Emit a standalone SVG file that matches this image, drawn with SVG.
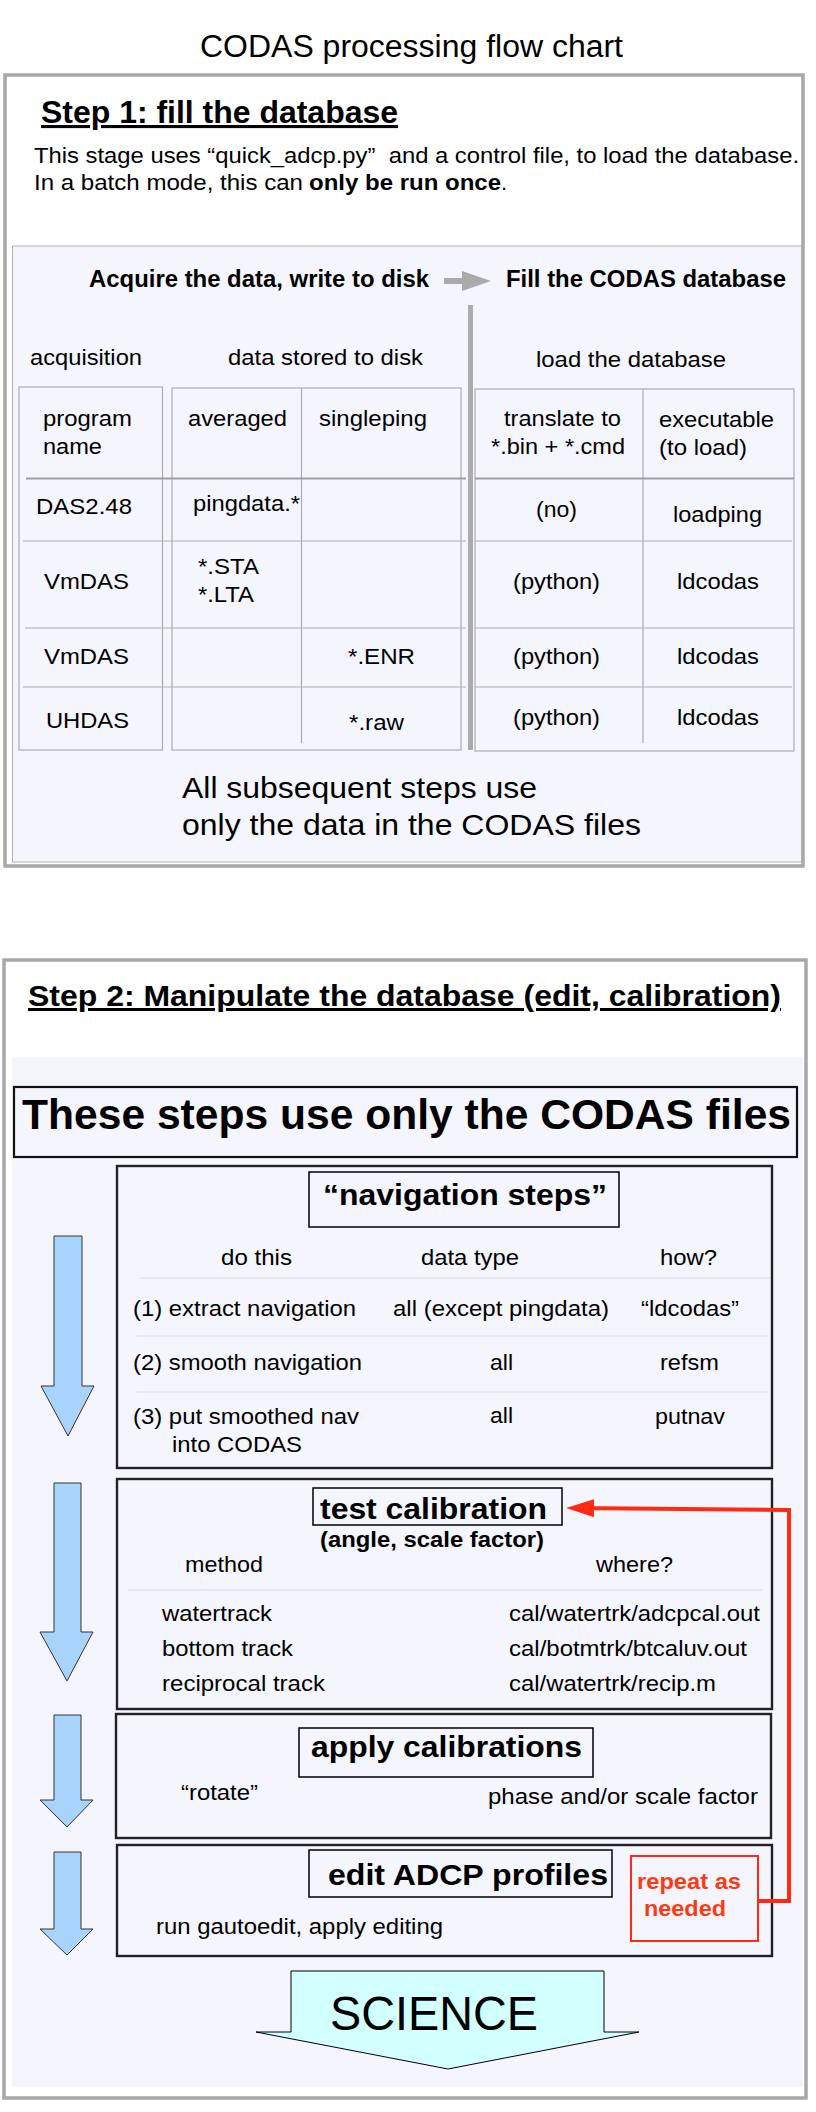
<svg xmlns="http://www.w3.org/2000/svg" width="816" height="2112" viewBox="0 0 816 2112">
<defs>
<style>
text{font-family:"Liberation Sans",Arial,Helvetica,sans-serif;fill:#000;white-space:pre}
.f22{font-size:22px}
.f23{font-size:23px}
.f30{font-size:30px}
.b{font-weight:bold}
.outer{fill:#fff;stroke:#a8a8a8;stroke-width:3.5}
.panel{fill:#f5f5fd}
.tbl{fill:none;stroke:#adadad;stroke-width:1.2}
.row{stroke:#adadad;stroke-width:1.2}
.sep{stroke:#dcdcdc;stroke-width:1.2}
.box{fill:none;stroke:#222;stroke-width:2.4}
.lbl{fill:none;stroke:#000;stroke-width:1.5}
.blue{fill:#a8d4fc;stroke:#333;stroke-width:1}
.red{fill:#ff3a12}
</style>
<marker id="redhead" viewBox="0 0 28 18" refX="19" refY="9" markerWidth="28" markerHeight="18" markerUnits="userSpaceOnUse" orient="auto">
<path d="M0,0 L28,9 L0,18 Z" fill="#ff2a12"/>
</marker>
</defs>
<rect width="816" height="2112" fill="#fff"/>

<g id="title">
<text x="200" y="57" style="font-size:31px" textLength="423" lengthAdjust="spacingAndGlyphs">CODAS processing flow chart</text>
</g>

<g id="step1">
<rect class="outer" x="5" y="75" width="798" height="791"/>
<text x="41" y="123" class="b" style="font-size:31px" text-decoration="underline" textLength="357" lengthAdjust="spacingAndGlyphs">Step 1: fill the database</text>
<text x="34" y="163" class="f22" textLength="765" lengthAdjust="spacingAndGlyphs">This stage uses “quick_adcp.py”  and a control file, to load the database.</text>
<text x="34" y="190" class="f22" textLength="269" lengthAdjust="spacingAndGlyphs">In a batch mode, this can</text>
<text x="309" y="190" class="f22 b" textLength="192" lengthAdjust="spacingAndGlyphs">only be run once</text>
<text x="501" y="190" class="f22">.</text>
</g>

<g id="step1-panel">
<rect class="panel" x="12.5" y="246" width="789" height="616" stroke="#b0b0b0" stroke-width="1"/>
<text x="89" y="287" class="f23 b" textLength="340" lengthAdjust="spacingAndGlyphs">Acquire the data, write to disk</text>
<text x="506" y="287" class="f23 b" textLength="280" lengthAdjust="spacingAndGlyphs">Fill the CODAS database</text>
<rect x="468" y="305" width="5" height="445" fill="#acacac"/>
</g>

<g id="acquire-table">
<text x="30" y="365" class="f22" textLength="112" lengthAdjust="spacingAndGlyphs">acquisition</text>
<text x="228" y="365" class="f22" textLength="195" lengthAdjust="spacingAndGlyphs">data stored to disk</text>
<rect class="tbl" x="19" y="387" width="143.5" height="363"/>
<rect class="tbl" x="172" y="388" width="289" height="362"/>
<line class="row" x1="301.5" y1="388" x2="301.5" y2="743"/>
<line x1="26" y1="478.5" x2="466" y2="478.5" stroke="#a0a0a0" stroke-width="2.2"/>
<line class="row" x1="23" y1="541" x2="466" y2="541"/>
<line class="row" x1="25" y1="628" x2="466" y2="628"/>
<line class="row" x1="23" y1="687" x2="466" y2="687"/>
<text x="43" y="426" class="f22" textLength="89" lengthAdjust="spacingAndGlyphs">program</text>
<text x="43" y="454" class="f22" textLength="59" lengthAdjust="spacingAndGlyphs">name</text>
<text x="188" y="426" class="f22" textLength="99" lengthAdjust="spacingAndGlyphs">averaged</text>
<text x="319" y="426" class="f22" textLength="108" lengthAdjust="spacingAndGlyphs">singleping</text>
<text x="36" y="514" class="f22" textLength="96" lengthAdjust="spacingAndGlyphs">DAS2.48</text>
<text x="193" y="511" class="f22" textLength="107" lengthAdjust="spacingAndGlyphs">pingdata.*</text>
<text x="44" y="589" class="f22" textLength="85" lengthAdjust="spacingAndGlyphs">VmDAS</text>
<text x="198" y="574" class="f22" textLength="61" lengthAdjust="spacingAndGlyphs">*.STA</text>
<text x="198" y="602" class="f22" textLength="56" lengthAdjust="spacingAndGlyphs">*.LTA</text>
<text x="44" y="664" class="f22" textLength="85" lengthAdjust="spacingAndGlyphs">VmDAS</text>
<text x="348" y="664" class="f22" textLength="67" lengthAdjust="spacingAndGlyphs">*.ENR</text>
<text x="46" y="728" class="f22" textLength="83" lengthAdjust="spacingAndGlyphs">UHDAS</text>
<text x="349" y="730" class="f22" textLength="55" lengthAdjust="spacingAndGlyphs">*.raw</text>
</g>

<g id="load-table">
<text x="536" y="367" class="f22" textLength="190" lengthAdjust="spacingAndGlyphs">load the database</text>
<rect class="tbl" x="475" y="389" width="319" height="362"/>
<line class="row" x1="643" y1="389" x2="643" y2="743"/>
<line x1="475" y1="478.5" x2="794" y2="478.5" stroke="#a0a0a0" stroke-width="2.2"/>
<line class="row" x1="475" y1="541" x2="792" y2="541"/>
<line class="row" x1="475" y1="628" x2="794" y2="628"/>
<line class="row" x1="475" y1="687" x2="792" y2="687"/>
<text x="504" y="426" class="f22" textLength="117" lengthAdjust="spacingAndGlyphs">translate to</text>
<text x="491" y="454" class="f22" textLength="134" lengthAdjust="spacingAndGlyphs">*.bin + *.cmd</text>
<text x="659" y="427" class="f22" textLength="115" lengthAdjust="spacingAndGlyphs">executable</text>
<text x="659" y="455" class="f22" textLength="88" lengthAdjust="spacingAndGlyphs">(to load)</text>
<text x="536" y="517" class="f22" textLength="41" lengthAdjust="spacingAndGlyphs">(no)</text>
<text x="673" y="522" class="f22" textLength="89" lengthAdjust="spacingAndGlyphs">loadping</text>
<text x="513" y="589" class="f22" textLength="87" lengthAdjust="spacingAndGlyphs">(python)</text>
<text x="677" y="589" class="f22" textLength="82" lengthAdjust="spacingAndGlyphs">ldcodas</text>
<text x="513" y="664" class="f22" textLength="87" lengthAdjust="spacingAndGlyphs">(python)</text>
<text x="677" y="664" class="f22" textLength="82" lengthAdjust="spacingAndGlyphs">ldcodas</text>
<text x="513" y="725" class="f22" textLength="87" lengthAdjust="spacingAndGlyphs">(python)</text>
<text x="677" y="725" class="f22" textLength="82" lengthAdjust="spacingAndGlyphs">ldcodas</text>
</g>

<g id="step1-note">
<text x="182" y="798" class="f30" textLength="355" lengthAdjust="spacingAndGlyphs">All subsequent steps use</text>
<text x="182" y="835" class="f30" textLength="459" lengthAdjust="spacingAndGlyphs">only the data in the CODAS files</text>
</g>

<g id="step2">
<rect class="outer" x="4" y="960" width="802" height="1138"/>
<text x="28" y="1006" class="f30 b" text-decoration="underline" textLength="753" lengthAdjust="spacingAndGlyphs">Step 2: Manipulate the database (edit, calibration)</text>
<rect class="panel" x="12" y="1057" width="791" height="1030"/>
</g>

<g id="codas-only">
<rect x="14" y="1087" width="783" height="70" fill="none" stroke="#111" stroke-width="2.2"/>
<text x="22" y="1129" class="b" style="font-size:42px" textLength="769" lengthAdjust="spacingAndGlyphs">These steps use only the CODAS files</text>
</g>

<g id="navigation">
<rect class="box" x="117" y="1166" width="655" height="302"/>
<rect class="lbl" x="309" y="1172" width="310" height="55"/>
<text x="323" y="1205" class="b" style="font-size:29px" textLength="284" lengthAdjust="spacingAndGlyphs">“navigation steps”</text>
<text x="221" y="1265" class="f22" textLength="71" lengthAdjust="spacingAndGlyphs">do this</text>
<text x="421" y="1265" class="f22" textLength="98" lengthAdjust="spacingAndGlyphs">data type</text>
<text x="660" y="1265" class="f22" textLength="57" lengthAdjust="spacingAndGlyphs">how?</text>
<line class="sep" x1="140" y1="1278" x2="770" y2="1278"/>
<text x="133" y="1316" class="f22" textLength="223" lengthAdjust="spacingAndGlyphs">(1) extract navigation</text>
<text x="393" y="1316" class="f22" textLength="216" lengthAdjust="spacingAndGlyphs">all (except pingdata)</text>
<text x="641" y="1316" class="f22" textLength="98" lengthAdjust="spacingAndGlyphs">“ldcodas”</text>
<line class="sep" x1="137" y1="1336" x2="768" y2="1336"/>
<text x="133" y="1370" class="f22" textLength="229" lengthAdjust="spacingAndGlyphs">(2) smooth navigation</text>
<text x="490" y="1370" class="f22" textLength="23" lengthAdjust="spacingAndGlyphs">all</text>
<text x="660" y="1370" class="f22" textLength="59" lengthAdjust="spacingAndGlyphs">refsm</text>
<line class="sep" x1="137" y1="1392" x2="768" y2="1392"/>
<text x="133" y="1424" class="f22" textLength="226" lengthAdjust="spacingAndGlyphs">(3) put smoothed nav</text>
<text x="172" y="1452" class="f22" textLength="130" lengthAdjust="spacingAndGlyphs">into CODAS</text>
<text x="490" y="1423" class="f22" textLength="23" lengthAdjust="spacingAndGlyphs">all</text>
<text x="655" y="1424" class="f22" textLength="70" lengthAdjust="spacingAndGlyphs">putnav</text>
</g>

<g id="test-calibration">
<rect class="box" x="117" y="1479" width="655" height="230"/>
<rect class="lbl" x="313" y="1488" width="249" height="37"/>
<text x="320" y="1519" class="f30 b" textLength="227" lengthAdjust="spacingAndGlyphs">test calibration</text>
<text x="320" y="1547" class="f22 b" textLength="224" lengthAdjust="spacingAndGlyphs">(angle, scale factor)</text>
<text x="185" y="1572" class="f22" textLength="78" lengthAdjust="spacingAndGlyphs">method</text>
<text x="596" y="1572" class="f22" textLength="77" lengthAdjust="spacingAndGlyphs">where?</text>
<line class="sep" x1="128" y1="1590" x2="762" y2="1590"/>
<text x="162" y="1621" class="f22" textLength="110" lengthAdjust="spacingAndGlyphs">watertrack</text>
<text x="509" y="1621" class="f22" textLength="251" lengthAdjust="spacingAndGlyphs">cal/watertrk/adcpcal.out</text>
<text x="162" y="1656" class="f22" textLength="131" lengthAdjust="spacingAndGlyphs">bottom track</text>
<text x="509" y="1656" class="f22" textLength="238" lengthAdjust="spacingAndGlyphs">cal/botmtrk/btcaluv.out</text>
<text x="162" y="1691" class="f22" textLength="163" lengthAdjust="spacingAndGlyphs">reciprocal track</text>
<text x="509" y="1691" class="f22" textLength="207" lengthAdjust="spacingAndGlyphs">cal/watertrk/recip.m</text>
</g>

<g id="apply-calibrations">
<rect class="box" x="116" y="1714" width="655" height="124"/>
<rect class="lbl" x="299" y="1728" width="294" height="49"/>
<text x="311" y="1757" class="f30 b" textLength="271" lengthAdjust="spacingAndGlyphs">apply calibrations</text>
<text x="181" y="1800" class="f22" textLength="77" lengthAdjust="spacingAndGlyphs">“rotate”</text>
<text x="488" y="1804" class="f22" textLength="270" lengthAdjust="spacingAndGlyphs">phase and/or scale factor</text>
</g>

<g id="edit-profiles">
<rect class="box" x="117" y="1845" width="655" height="111"/>
<rect class="lbl" x="309" y="1850" width="303" height="47"/>
<text x="328" y="1885" class="f30 b" textLength="280" lengthAdjust="spacingAndGlyphs">edit ADCP profiles</text>
<text x="156" y="1934" class="f22" textLength="287" lengthAdjust="spacingAndGlyphs">run gautoedit, apply editing</text>
</g>

<g id="repeat-note">
<rect x="631" y="1856" width="127" height="85" fill="none" stroke="#ff2a12" stroke-width="2"/>
<text x="637" y="1889" class="f22 b" style="fill:#ff3a12" textLength="104" lengthAdjust="spacingAndGlyphs">repeat as</text>
<text x="644" y="1916" class="f22 b" style="fill:#ff3a12" textLength="82" lengthAdjust="spacingAndGlyphs">needed</text>
</g>

<g id="science">
<path d="M291,1971 H604 V2032 H639 L448,2069 L256,2032 H291 Z" fill="#d2ffff" stroke="#000" stroke-width="1"/>
<text x="330" y="2030" style="font-size:48px" textLength="208" lengthAdjust="spacingAndGlyphs">SCIENCE</text>
</g>

<g id="connectors">
<path d="M444,278 H462 V271 L491,281 L462,291 V284 H444 Z" fill="#aaaaaa"/>
<path class="blue" d="M54,1236 H82 V1386 H94 L68,1436 L41,1386 H54 Z"/>
<path class="blue" d="M54,1483 H81 V1632 H93 L67,1681 L40,1632 H54 Z"/>
<path class="blue" d="M54,1715 H81 V1800 H93 L67,1827 L40,1800 H54 Z"/>
<path class="blue" d="M54,1852 H81 V1929 H93 L67,1955 L40,1929 H54 Z"/>
<polyline points="758,1901 789,1901 789,1510 575,1508" fill="none" stroke="#ff2a12" stroke-width="4" marker-end="url(#redhead)"/>
</g>
</svg>
